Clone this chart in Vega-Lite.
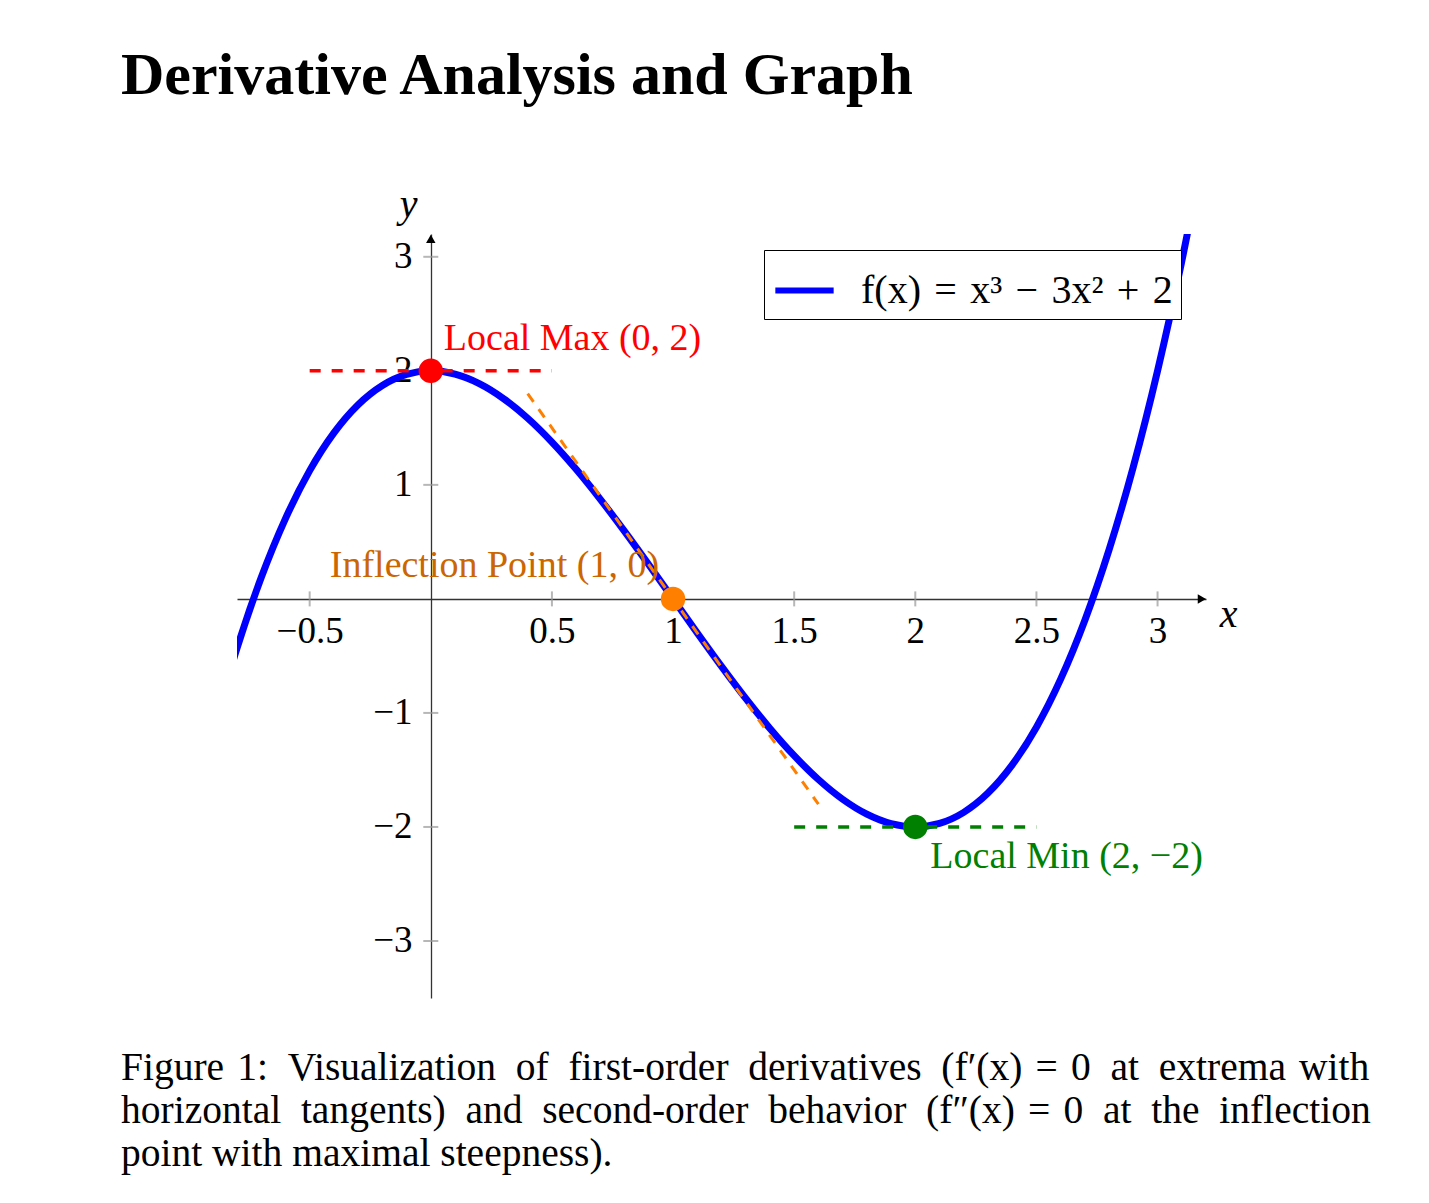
{
  "$schema": "https://vega.github.io/schema/vega-lite/v6.json",
  "padding": {"left": 121, "top": 46, "right": 20, "bottom": 10},
  "background": "white",
  "config": {"view": {"stroke": null}, "font": "Liberation Serif"},
  "title": {"text": "Derivative Analysis and Graph", "anchor": "start", "font": "Liberation Serif", "fontSize": 60, "fontWeight": "bold", "color": "black", "offset": 77},
  "vconcat": [
    {
      "width": 969,
      "height": 764,
      "title": {
        "text": [
          "Figure\u20041:\u2002Visualization\u2002of\u2002first-order\u2002derivatives\u2002(f′(x)\u2004=\u20040\u2002at\u2002extrema\u2004with",
          "horizontal\u2002tangents)\u2002and\u2002second-order\u2002behavior\u2002(f″(x)\u2004=\u20040\u2002at\u2002the\u2002inflection",
          "point with maximal steepness)."
        ],
        "orient": "bottom", "anchor": "start", "frame": "group", "dx": -116, "offset": 51,
        "font": "Liberation Serif", "fontSize": 39.5, "fontWeight": "normal", "lineHeight": 43, "color": "black"
      },
      "layer": [
        {
          "data": {"values": [
            {"x": -0.9, "y": -1.159, "series": "f(x) = x³ − 3x² + 2"},
            {"x": -0.8, "y": -0.432, "series": "f(x) = x³ − 3x² + 2"},
            {"x": -0.7, "y": 0.187, "series": "f(x) = x³ − 3x² + 2"},
            {"x": -0.6, "y": 0.704, "series": "f(x) = x³ − 3x² + 2"},
            {"x": -0.5, "y": 1.125, "series": "f(x) = x³ − 3x² + 2"},
            {"x": -0.4, "y": 1.456, "series": "f(x) = x³ − 3x² + 2"},
            {"x": -0.3, "y": 1.703, "series": "f(x) = x³ − 3x² + 2"},
            {"x": -0.2, "y": 1.872, "series": "f(x) = x³ − 3x² + 2"},
            {"x": -0.1, "y": 1.969, "series": "f(x) = x³ − 3x² + 2"},
            {"x": 0.0, "y": 2.0, "series": "f(x) = x³ − 3x² + 2"},
            {"x": 0.1, "y": 1.971, "series": "f(x) = x³ − 3x² + 2"},
            {"x": 0.2, "y": 1.888, "series": "f(x) = x³ − 3x² + 2"},
            {"x": 0.3, "y": 1.757, "series": "f(x) = x³ − 3x² + 2"},
            {"x": 0.4, "y": 1.584, "series": "f(x) = x³ − 3x² + 2"},
            {"x": 0.5, "y": 1.375, "series": "f(x) = x³ − 3x² + 2"},
            {"x": 0.6, "y": 1.136, "series": "f(x) = x³ − 3x² + 2"},
            {"x": 0.7, "y": 0.873, "series": "f(x) = x³ − 3x² + 2"},
            {"x": 0.8, "y": 0.592, "series": "f(x) = x³ − 3x² + 2"},
            {"x": 0.9, "y": 0.299, "series": "f(x) = x³ − 3x² + 2"},
            {"x": 1.0, "y": 0.0, "series": "f(x) = x³ − 3x² + 2"},
            {"x": 1.1, "y": -0.299, "series": "f(x) = x³ − 3x² + 2"},
            {"x": 1.2, "y": -0.592, "series": "f(x) = x³ − 3x² + 2"},
            {"x": 1.3, "y": -0.873, "series": "f(x) = x³ − 3x² + 2"},
            {"x": 1.4, "y": -1.136, "series": "f(x) = x³ − 3x² + 2"},
            {"x": 1.5, "y": -1.375, "series": "f(x) = x³ − 3x² + 2"},
            {"x": 1.6, "y": -1.584, "series": "f(x) = x³ − 3x² + 2"},
            {"x": 1.7, "y": -1.757, "series": "f(x) = x³ − 3x² + 2"},
            {"x": 1.8, "y": -1.888, "series": "f(x) = x³ − 3x² + 2"},
            {"x": 1.9, "y": -1.971, "series": "f(x) = x³ − 3x² + 2"},
            {"x": 2.0, "y": -2.0, "series": "f(x) = x³ − 3x² + 2"},
            {"x": 2.1, "y": -1.969, "series": "f(x) = x³ − 3x² + 2"},
            {"x": 2.2, "y": -1.872, "series": "f(x) = x³ − 3x² + 2"},
            {"x": 2.3, "y": -1.703, "series": "f(x) = x³ − 3x² + 2"},
            {"x": 2.4, "y": -1.456, "series": "f(x) = x³ − 3x² + 2"},
            {"x": 2.5, "y": -1.125, "series": "f(x) = x³ − 3x² + 2"},
            {"x": 2.6, "y": -0.704, "series": "f(x) = x³ − 3x² + 2"},
            {"x": 2.7, "y": -0.187, "series": "f(x) = x³ − 3x² + 2"},
            {"x": 2.8, "y": 0.432, "series": "f(x) = x³ − 3x² + 2"},
            {"x": 2.9, "y": 1.159, "series": "f(x) = x³ − 3x² + 2"},
            {"x": 3.0, "y": 2.0, "series": "f(x) = x³ − 3x² + 2"},
            {"x": 3.1, "y": 2.961, "series": "f(x) = x³ − 3x² + 2"},
            {"x": 3.2, "y": 4.048, "series": "f(x) = x³ − 3x² + 2"}
          ]},
          "mark": {"type": "line", "strokeWidth": 7, "clip": true, "interpolate": "monotone"},
          "encoding": {
            "x": {
              "field": "x", "type": "quantitative",
              "scale": {"domain": [-0.8, 3.2], "nice": false, "zero": false},
              "axis": {
                "orient": "bottom", "offset": -399, "values": [-0.5, 0.5, 1, 1.5, 2, 2.5, 3], "format": "~g",
                "ticks": false, "grid": false, "domainColor": "#333333", "domainWidth": 1.3,
                "labelFont": "Liberation Serif", "labelFontSize": 37, "labelColor": "black", "labelPadding": 14,
                "labelFlush": false, "labelOverlap": false,
                "title": "x", "titleFont": "Liberation Serif", "titleFontStyle": "italic", "titleFontWeight": "normal",
                "titleFontSize": 40, "titleColor": "black", "titleX": 991, "titleY": 15, "titleAlign": "center", "titleBaseline": "middle", "titleAngle": 0
              }
            },
            "y": {
              "field": "y", "type": "quantitative",
              "scale": {"domain": [-3.5, 3.2], "nice": false, "zero": false},
              "axis": {
                "orient": "left", "offset": -194, "values": [-3, -2, -1, 1, 2, 3], "format": "~g",
                "ticks": false, "grid": false, "domainColor": "#333333", "domainWidth": 1.3,
                "labelFont": "Liberation Serif", "labelFontSize": 37, "labelColor": "black", "labelPadding": 19,
                "labelFlush": false, "labelOverlap": false,
                "title": "y", "titleFont": "Liberation Serif", "titleFontStyle": "italic", "titleFontWeight": "normal",
                "titleFontSize": 40, "titleColor": "black", "titleX": -23, "titleY": -30, "titleAlign": "center", "titleBaseline": "middle", "titleAngle": 0
              }
            },
            "color": {
              "field": "series", "type": "nominal",
              "scale": {"range": ["#0000ff"]},
              "legend": {
                "title": null, "orient": "none", "legendX": 527, "legendY": 16,
                "strokeColor": "black", "fillColor": "white", "padding": 8,
                "symbolType": "stroke", "symbolStrokeWidth": 6, "symbolSize": 3400,
                "labelFont": "Liberation Serif", "labelFontSize": 40, "labelColor": "black", "labelOffset": 24, "labelLimit": 600,
                "labelExpr": "'f(x)\u2004=\u2004x³\u2004−\u20043x²\u2004+\u20042'"
              }
            }
          }
        },
        {
          "data": {"values": [{"x": -0.5}, {"x": 0.5}, {"x": 1}, {"x": 1.5}, {"x": 2}, {"x": 2.5}, {"x": 3}]},
          "mark": {"type": "tick", "orient": "vertical", "size": 15, "thickness": 2, "color": "#999999"},
          "encoding": {"x": {"field": "x", "type": "quantitative"}, "y": {"datum": 0, "type": "quantitative"}}
        },
        {
          "data": {"values": [{"y": -3}, {"y": -2}, {"y": -1}, {"y": 1}, {"y": 2}, {"y": 3}]},
          "mark": {"type": "tick", "orient": "horizontal", "size": 15, "thickness": 2, "color": "#999999"},
          "encoding": {"y": {"field": "y", "type": "quantitative"}, "x": {"datum": 0, "type": "quantitative"}}
        },
        {
          "data": {"values": [{"x": 3.183, "y": 0}]},
          "mark": {"type": "point", "shape": "triangle-right", "filled": true, "size": 90, "color": "black", "opacity": 1},
          "encoding": {"x": {"field": "x", "type": "quantitative"}, "y": {"field": "y", "type": "quantitative"}}
        },
        {
          "data": {"values": [{"x": 0, "y": 3.158}]},
          "mark": {"type": "point", "shape": "triangle-up", "filled": true, "size": 90, "color": "black", "opacity": 1},
          "encoding": {"x": {"field": "x", "type": "quantitative"}, "y": {"field": "y", "type": "quantitative"}}
        },
        {
          "data": {"values": [{"x": -0.5, "y": 2}, {"x": 0.5, "y": 2}]},
          "mark": {"type": "line", "color": "#ff0000", "strokeWidth": 3.5, "strokeDash": [11, 11]},
          "encoding": {"x": {"field": "x", "type": "quantitative"}, "y": {"field": "y", "type": "quantitative"}}
        },
        {
          "data": {"values": [{"x": 0.4, "y": 1.8}, {"x": 1.6, "y": -1.8}]},
          "mark": {"type": "line", "color": "#ff8000", "strokeWidth": 3, "strokeDash": [10, 9]},
          "encoding": {"x": {"field": "x", "type": "quantitative"}, "y": {"field": "y", "type": "quantitative"}}
        },
        {
          "data": {"values": [{"x": 1.5, "y": -2}, {"x": 2.5, "y": -2}]},
          "mark": {"type": "line", "color": "#008000", "strokeWidth": 3.5, "strokeDash": [11, 11]},
          "encoding": {"x": {"field": "x", "type": "quantitative"}, "y": {"field": "y", "type": "quantitative"}}
        },
        {
          "data": {"values": [{"x": 0, "y": 2}]},
          "mark": {"type": "circle", "size": 600, "color": "#ff0000", "opacity": 1},
          "encoding": {"x": {"field": "x", "type": "quantitative"}, "y": {"field": "y", "type": "quantitative"}}
        },
        {
          "data": {"values": [{"x": 1, "y": 0}]},
          "mark": {"type": "circle", "size": 600, "color": "#ff8000", "opacity": 1},
          "encoding": {"x": {"field": "x", "type": "quantitative"}, "y": {"field": "y", "type": "quantitative"}}
        },
        {
          "data": {"values": [{"x": 2, "y": -2}]},
          "mark": {"type": "circle", "size": 600, "color": "#008000", "opacity": 1},
          "encoding": {"x": {"field": "x", "type": "quantitative"}, "y": {"field": "y", "type": "quantitative"}}
        },
        {
          "data": {"values": [{"x": 0, "y": 2, "label": "Local Max (0, 2)"}]},
          "mark": {"type": "text", "align": "left", "baseline": "alphabetic", "dx": 13, "dy": -21, "color": "#ff0000", "font": "Liberation Serif", "fontSize": 38},
          "encoding": {"x": {"field": "x", "type": "quantitative"}, "y": {"field": "y", "type": "quantitative"}, "text": {"field": "label"}}
        },
        {
          "data": {"values": [{"x": 1, "y": 0, "label": "Inflection Point (1, 0)"}]},
          "mark": {"type": "text", "align": "right", "baseline": "alphabetic", "dx": -14, "dy": -22, "color": "#cc6600", "font": "Liberation Serif", "fontSize": 38},
          "encoding": {"x": {"field": "x", "type": "quantitative"}, "y": {"field": "y", "type": "quantitative"}, "text": {"field": "label"}}
        },
        {
          "data": {"values": [{"x": 2, "y": -2, "label": "Local Min (2, −2)"}]},
          "mark": {"type": "text", "align": "left", "baseline": "alphabetic", "dx": 15, "dy": 41, "color": "#008000", "font": "Liberation Serif", "fontSize": 38},
          "encoding": {"x": {"field": "x", "type": "quantitative"}, "y": {"field": "y", "type": "quantitative"}, "text": {"field": "label"}}
        }
      ]
    }
  ]
}
